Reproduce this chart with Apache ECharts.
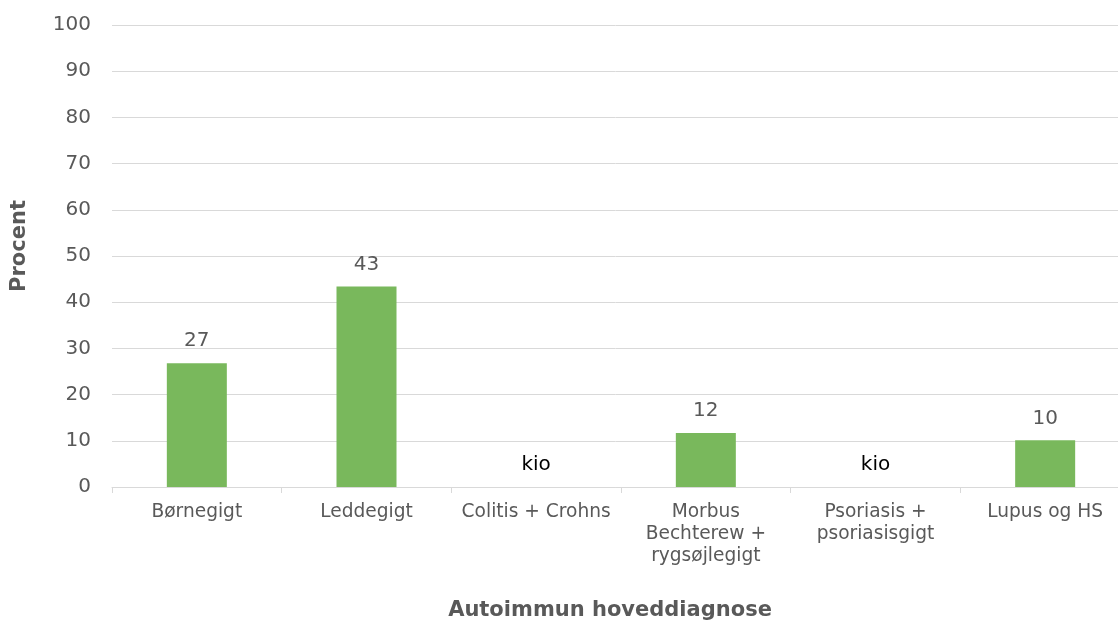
<!DOCTYPE html>
<html>
<head>
<meta charset="utf-8">
<script src="https://cdn.jsdelivr.net/npm/echarts@6/dist/echarts.min.js"></script>
<style>html,body{margin:0;padding:0;background:#fff}#c{width:1118px;height:623px}</style>
</head>
<body>
<div id="c"></div>
<script>
const categories = ['Børnegigt', 'Leddegigt', 'Colitis + Crohns', 'Morbus\nBechterew +\nrygsøjlegigt', 'Psoriasis +\npsoriasisgigt', 'Lupus og HS'];
const values = [26.8, 43.4, null, 11.7, null, 10.1];
const missingLabel = 'kio';
const yTicks = { min: 0, max: 100, interval: 10 };
const xName = 'Autoimmun hoveddiagnose';
const yName = 'Procent';

const font = 'DejaVu Sans';
const data = values.map(v => v === null
  ? { value: 0, label: { formatter: missingLabel, color: '#000000' } }
  : { value: v });

const chart = echarts.init(document.getElementById('c'), null, { renderer: 'canvas' });
chart.setOption({
  animation: false,
  textStyle: { fontFamily: font },
  title: {
    text: xName,
    left: 610,
    top: 600,
    textAlign: 'center',
    padding: 0,
    textStyle: { fontFamily: font, fontWeight: 'bold', fontSize: 21, color: '#595959' }
  },
  graphic: [{
    type: 'text',
    x: 20, y: 246,
    rotation: Math.PI / 2,
    style: { text: yName, fontFamily: font, fontWeight: 'bold', fontSize: 21, fill: '#595959', align: 'center', verticalAlign: 'middle' }
  }],
  grid: { left: 112, top: 25, bottom: 136, width: 1018, containLabel: false, outerBoundsMode: 'none' },
  xAxis: {
    type: 'category',
    data: categories,
    axisLine: { lineStyle: { color: '#d9d9d9', width: 1 } },
    axisTick: { show: true, length: 6, lineStyle: { color: '#d9d9d9' } },
    axisLabel: { fontFamily: font, fontSize: 18.6, color: '#595959', lineHeight: 22, margin: 14, interval: 0 }
  },
  yAxis: {
    type: 'value',
    min: yTicks.min, max: yTicks.max, interval: yTicks.interval,
    axisLine: { show: false },
    axisTick: { show: false },
    axisLabel: { fontFamily: font, fontSize: 20, color: '#595959', margin: 21 },
    splitLine: { lineStyle: { color: '#d9d9d9', width: 1 } }
  },
  series: [{
    type: 'bar',
    data: data,
    barWidth: 60,
    itemStyle: { color: '#79b85c' },
    label: {
      show: true,
      position: 'top',
      distance: 12,
      fontFamily: font,
      fontSize: 20,
      color: '#595959',
      formatter: p => String(Math.round(p.value))
    }
  }]
});
</script>
</body>
</html>
